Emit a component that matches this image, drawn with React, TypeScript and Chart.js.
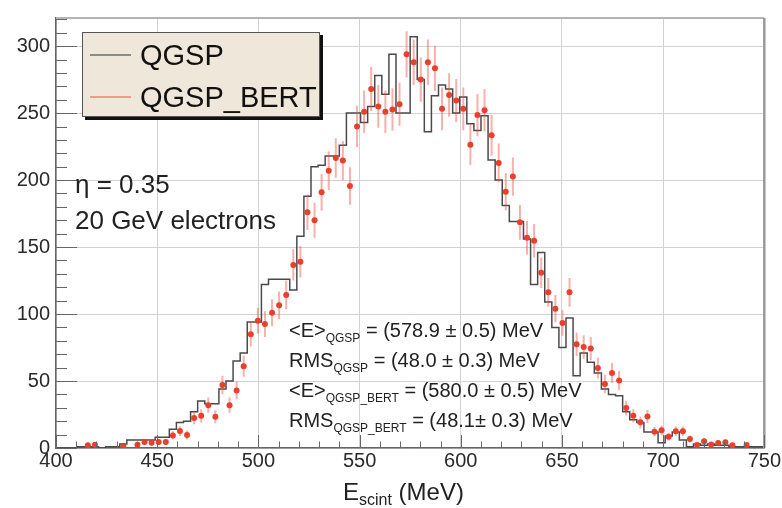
import React, { useEffect, useRef } from "react";
import { Chart, registerables } from "chart.js";

Chart.register(...registerables);

// ---- data ----
const X_MIN = 400;
const X_MAX = 750;
const Y_MIN = 0;
const Y_MAX = 321;
const BIN_START = 400;
const BIN_WIDTH = 3.5;

// QGSP histogram contents (100 bins of 3.5 MeV from 400 to 750 MeV)
const qgspCounts = [
  0, 0, 0, 0, 1, 1, 1, 0, 1, 1,
  3, 6, 6, 6, 6, 8, 8, 14, 19, 20,
  27, 35, 33, 33, 44, 50, 65, 71, 94, 94,
  122, 126, 126, 126, 118, 158, 188, 210, 211, 218,
  218, 226, 250, 250, 243, 255, 278, 264, 294, 250,
  250, 307, 275, 236, 263, 271, 268, 250, 262, 242,
  237, 248, 215, 200, 181, 169, 169, 156, 122, 146,
  109, 90, 75, 97, 54, 71, 64, 56, 44, 40,
  39, 27, 21, 19, 12, 12, 4, 9, 12, 6,
  1, 3, 2, 3, 2, 2, 1, 1, 1, 1,
];

// QGSP_BERT bin contents (points with sqrt(N) error bars)
const qgspBertCounts = [
  0, 0, 0, 0, 2, 2.5, 0, 0, 0, 1.5,
  0, 2.5, 4.4, 4, 4.4, 4.4, 9.4, 12.6, 9.7, 22.4,
  24, 32, 23.4, 47, 32, 43, 61, 85, 95, 92.5,
  101, 106.5, 114.3, 136.7, 139, 176, 170, 191, 207, 216.5,
  214.6, 195.6, 240, 251, 268, 255, 251, 252.7, 256.6, 294,
  288, 275, 288, 283.4, 253.2, 263.5, 259.4, 253.2, 226.4, 248.5,
  252.2, 233.5, 212.8, 191.3, 202.6, 168.5, 156.9, 154.7, 130.8, 116.2,
  104, 93.4, 116.2, 77.4, 75.4, 74.2, 59.7, 47.7, 56, 50.4,
  29.8, 24, 19.2, 23.6, 12.2, 13.2, 8.4, 12.5, 12.5, 6.7,
  2.2, 5, 2.6, 3.8, 4.3, 2, 0, 2.3, 0, 0,
];

const xTickValues = [400, 450, 500, 550, 600, 650, 700, 750];
const yTickValues = [0, 50, 100, 150, 200, 250, 300];
const X_MINOR_STEP = 10;
const Y_MINOR_STEP = 10;

const seriesLabels = ["QGSP", "QGSP_BERT"];
const infoLines = ["\u03b7 = 0.35", "20 GeV electrons"];
const statMain = ["<E>", "RMS", "<E>", "RMS"];
const statSub = ["QGSP", "QGSP", "QGSP_BERT", "QGSP_BERT"];
const statRest = [
  " = (578.9 \u00b1 0.5) MeV",
  " = (48.0 \u00b1 0.3) MeV",
  " = (580.0 \u00b1 0.5) MeV",
  " = (48.1\u00b1 0.3) MeV",
];
const xTitleMain = "E";
const xTitleSub = "scint";
const xTitleRest = " (MeV)";

// ---- styles ----
const FONT = "'Liberation Sans', Arial, Helvetica, sans-serif";
const HIST_COLOR = "#4a4a4a";
const POINT_COLOR = "#e8402c";
const ERR_COLOR = "rgba(238, 80, 70, 0.45)";
const GRID_COLOR = "#d2d2d2";
const AXIS_COLOR = "#666666";
const TEXT_COLOR = "#2a2a2a";

function drawRich(
  ctx: CanvasRenderingContext2D,
  x: number,
  y: number,
  parts: { text: string; size: number; dy: number }[]
) {
  let cx = x;
  ctx.textBaseline = "alphabetic";
  ctx.textAlign = "left";
  for (const p of parts) {
    ctx.font = `${p.size}px ${FONT}`;
    ctx.fillText(p.text, cx, y + p.dy);
    cx += ctx.measureText(p.text).width;
  }
}

const decorPlugin = {
  id: "decor",
  afterDraw(chart: any) {
    const ctx: CanvasRenderingContext2D = chart.ctx;
    const xs = chart.scales.x;
    const ys = chart.scales.y;
    const { left, right, top, bottom } = chart.chartArea;
    ctx.save();

    // frame top / right
    ctx.strokeStyle = "#b4b4b4";
    ctx.lineWidth = 2;
    ctx.beginPath();
    ctx.moveTo(left, top);
    ctx.lineTo(right, top);
    ctx.stroke();
    ctx.strokeStyle = "#9a9a9a";
    ctx.lineWidth = 2.5;
    ctx.beginPath();
    ctx.moveTo(right, top);
    ctx.lineTo(right, bottom);
    ctx.stroke();

    // tick marks
    ctx.strokeStyle = AXIS_COLOR;
    ctx.lineWidth = 1;
    ctx.beginPath();
    for (let v = Y_MIN; v <= Y_MAX; v += Y_MINOR_STEP) {
      const py = Math.round(ys.getPixelForValue(v)) + 0.5;
      const len = v % 50 === 0 ? 21 : 11;
      ctx.moveTo(left, py);
      ctx.lineTo(left + len, py);
    }
    for (let v = X_MIN; v <= X_MAX; v += X_MINOR_STEP) {
      const px = Math.round(xs.getPixelForValue(v)) + 0.5;
      const len = v % 50 === 0 ? 13 : 6.5;
      ctx.moveTo(px, bottom);
      ctx.lineTo(px, bottom - len);
    }
    ctx.stroke();

    // legend
    const lx = 82, ly = 32, lw = 238, lh = 85;
    ctx.fillStyle = "#111";
    ctx.fillRect(lx + 3, ly + 3, lw, lh);
    ctx.fillStyle = "#efe7da";
    ctx.fillRect(lx, ly, lw, lh);
    ctx.strokeStyle = "#555";
    ctx.lineWidth = 1;
    ctx.strokeRect(lx + 0.5, ly + 0.5, lw - 1, lh - 1);
    const legColors = ["#8c8c86", "#f2998a"];
    const legY = [55, 97];
    for (let i = 0; i < seriesLabels.length; i++) {
      ctx.strokeStyle = legColors[i];
      ctx.lineWidth = 2;
      ctx.beginPath();
      ctx.moveTo(90, legY[i]);
      ctx.lineTo(131, legY[i]);
      ctx.stroke();
      ctx.fillStyle = "#111";
      ctx.font = `29px ${FONT}`;
      ctx.textBaseline = "alphabetic";
      ctx.textAlign = "left";
      ctx.fillText(seriesLabels[i], 140, legY[i] + 10);
    }

    // info text
    ctx.fillStyle = "#222";
    ctx.font = `26px ${FONT}`;
    ctx.fillText(infoLines[0], 75, 193);
    ctx.fillText(infoLines[1], 75, 229);

    // stats
    const statBase = [336.5, 366.5, 396.5, 426.5];
    for (let i = 0; i < statMain.length; i++) {
      drawRich(ctx, 289, statBase[i], [
        { text: statMain[i], size: 20, dy: 0 },
        { text: statSub[i], size: 12, dy: 5 },
        { text: statRest[i], size: 20, dy: 0 },
      ]);
    }

    // x title
    ctx.fillStyle = "#222";
    drawRich(ctx, 343, 500, [
      { text: xTitleMain, size: 24, dy: 0 },
      { text: xTitleSub, size: 16, dy: 5 },
      { text: xTitleRest, size: 24, dy: 0 },
    ]);

    ctx.restore();
  },
};

export default function App() {
  const ref = useRef<HTMLCanvasElement | null>(null);

  useEffect(() => {
    if (!ref.current) return;

    const histData = qgspCounts.map((v, i) => ({ x: BIN_START + i * BIN_WIDTH, y: v }));
    histData.push({
      x: BIN_START + qgspCounts.length * BIN_WIDTH,
      y: qgspCounts[qgspCounts.length - 1],
    });

    const pointData: { x: number; y: number }[] = [];
    const errData: { x: number; y: number | null }[] = [];
    qgspBertCounts.forEach((v, i) => {
      if (v <= 0) return;
      const c = BIN_START + (i + 0.5) * BIN_WIDTH;
      const e = Math.sqrt(v);
      pointData.push({ x: c, y: v });
      errData.push({ x: c, y: Math.max(0, v - e) }, { x: c, y: v + e }, { x: c, y: null });
    });

    const chart = new Chart(ref.current, {
      type: "line",
      data: {
        datasets: [
          {
            label: seriesLabels[1],
            data: pointData,
            showLine: false,
            pointRadius: 3,
            pointBackgroundColor: POINT_COLOR,
            pointBorderWidth: 0,
            borderColor: POINT_COLOR,
            order: 0,
          } as any,
          {
            label: seriesLabels[1] + " errors",
            data: errData,
            borderColor: ERR_COLOR,
            borderWidth: 2,
            pointRadius: 0,
            spanGaps: false,
            order: 1,
          } as any,
          {
            label: seriesLabels[0],
            data: histData,
            stepped: "after",
            borderColor: HIST_COLOR,
            borderWidth: 1.5,
            pointRadius: 0,
            fill: false,
            order: 2,
          } as any,
        ],
      },
      options: {
        animation: false,
        responsive: false,
        devicePixelRatio: 1,
        events: [],
        layout: { padding: { left: 0, right: 17, top: 12, bottom: 0 } },
        plugins: {
          legend: { display: false },
          tooltip: { enabled: false },
          title: { display: false },
        },
        scales: {
          x: {
            type: "linear",
            min: X_MIN,
            max: X_MAX,
            afterBuildTicks: (s: any) => {
              s.ticks = xTickValues.map((v) => ({ value: v }));
            },
            afterFit: (s: any) => {
              s.height = 60;
            },
            ticks: {
              font: { family: FONT, size: 20 },
              color: TEXT_COLOR,
              padding: 1,
              maxRotation: 0,
              autoSkip: false,
            },
            grid: { color: GRID_COLOR, lineWidth: 1, drawTicks: false },
            border: { display: true, color: AXIS_COLOR, width: 1.5 },
          },
          y: {
            type: "linear",
            min: Y_MIN,
            max: Y_MAX,
            afterBuildTicks: (s: any) => {
              s.ticks = yTickValues.map((v) => ({ value: v }));
            },
            afterFit: (s: any) => {
              s.width = 56;
            },
            ticks: {
              font: { family: FONT, size: 20 },
              color: TEXT_COLOR,
              padding: 6,
              autoSkip: false,
            },
            grid: { color: GRID_COLOR, lineWidth: 1, drawTicks: false },
            border: { display: true, color: AXIS_COLOR, width: 1.5 },
          },
        },
      },
      plugins: [decorPlugin],
    });

    return () => chart.destroy();
  }, []);

  return (
    <div style={{ position: "fixed", left: 0, top: 0, width: 782, height: 508, background: "#fff" }}>
      <canvas ref={ref} width={782} height={508} style={{ display: "block", width: 782, height: 508 }} />
    </div>
  );
}
